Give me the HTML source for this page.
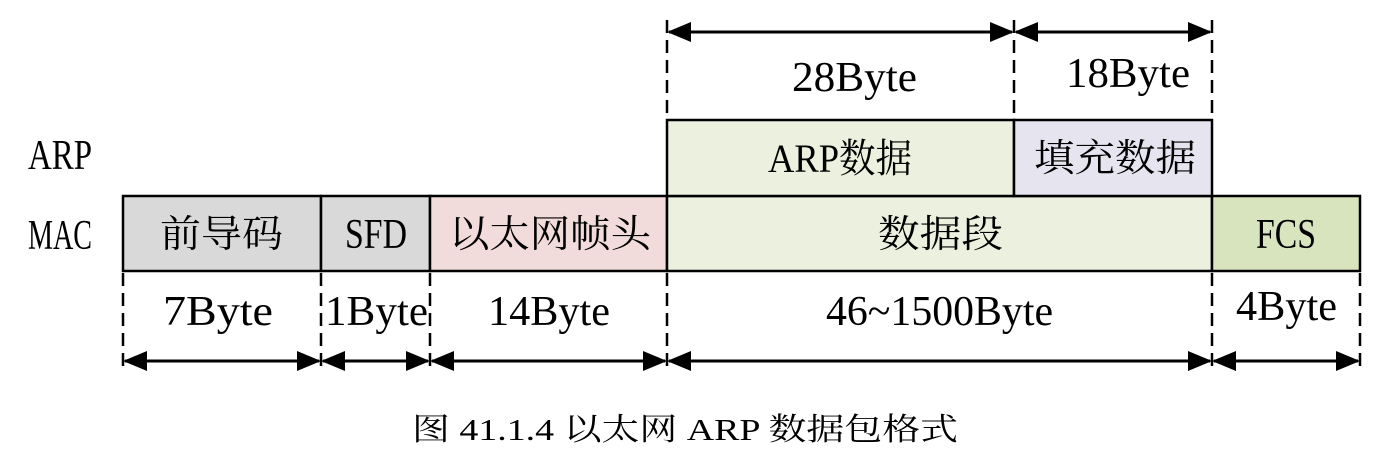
<!DOCTYPE html>
<html><head><meta charset="utf-8"><style>
html,body{margin:0;padding:0;background:#fff;}
svg{display:block}
text{font-family:"Liberation Serif","Noto Serif CJK SC",serif;fill:#000;}
</style></head><body>
<svg width="1397" height="453" viewBox="0 0 1397 453" xmlns="http://www.w3.org/2000/svg">
<g stroke="#000" stroke-width="2.5">
<rect x="123" y="196" width="198" height="75" fill="#d9d9d9"/>
<rect x="321" y="196" width="109" height="75" fill="#d9d9d9"/>
<rect x="430" y="196" width="237" height="75" fill="#f2dcdb"/>
<rect x="667" y="196" width="545" height="75" fill="#ebf1de"/>
<rect x="1212" y="196" width="148" height="75" fill="#d7e4bd"/>
<rect x="667" y="120" width="347" height="76" fill="#ebf1de"/>
<rect x="1014" y="120" width="198" height="76" fill="#e6e4ee"/>
</g>
<g stroke="#000" stroke-width="2.5" stroke-dasharray="13,7" fill="none">
<path d="M123 273V372M321 273V372M430 273V372M667 273V372M1212 273V372M1360 273V372"/>
<path d="M667 20V118M1014 20V118M1212 20V118"/>
</g>
<g stroke="#000" stroke-width="3" fill="none">
<path d="M125 361H319M323 361H428M432 361H665M669 361H1210M1214 361H1358"/>
<path d="M669 32H1012M1016 32H1210"/>
</g>
<g fill="#000">
<path d="M123 361l24-10v20zM321 361l-24-10v20zM321 361l24-10v20zM430 361l-24-10v20zM430 361l24-10v20zM667 361l-24-10v20zM667 361l24-10v20zM1212 361l-24-10v20zM1212 361l24-10v20zM1360 361l-24-10v20z"/>
<path d="M667 32l24-10v20zM1014 32l-24-10v20zM1014 32l24-10v20zM1212 32l-24-10v20z"/>
</g>
<g font-size="42">
<text x="28" y="169" textLength="64" lengthAdjust="spacingAndGlyphs">ARP</text>
<text x="28" y="249" textLength="64" lengthAdjust="spacingAndGlyphs">MAC</text>
<text x="160" y="247" textLength="123" lengthAdjust="spacingAndGlyphs" font-size="38">前导码</text>
<text x="345" y="248" textLength="62" lengthAdjust="spacingAndGlyphs">SFD</text>
<text x="449" y="247" textLength="202" lengthAdjust="spacingAndGlyphs" font-size="38">以太网帧头</text>
<text x="878" y="247" textLength="125" lengthAdjust="spacingAndGlyphs" font-size="38">数据段</text>
<text x="1256" y="248" textLength="60" lengthAdjust="spacingAndGlyphs">FCS</text>
<text x="768" y="172" textLength="144" lengthAdjust="spacingAndGlyphs" font-size="40">ARP数据</text>
<text x="1034" y="171" textLength="162" lengthAdjust="spacingAndGlyphs" font-size="38">填充数据</text>
<text x="792" y="91" textLength="125" lengthAdjust="spacingAndGlyphs">28Byte</text>
<text x="1066" y="87" textLength="124" lengthAdjust="spacingAndGlyphs">18Byte</text>
<text x="163" y="325" textLength="110" lengthAdjust="spacingAndGlyphs">7Byte</text>
<text x="325" y="325" textLength="103" lengthAdjust="spacingAndGlyphs">1Byte</text>
<text x="488" y="325" textLength="122" lengthAdjust="spacingAndGlyphs">14Byte</text>
<text x="826" y="325" textLength="227" lengthAdjust="spacingAndGlyphs">46~1500Byte</text>
<text x="1236" y="320" textLength="101" lengthAdjust="spacingAndGlyphs">4Byte</text>
</g>
<text x="412" y="440" font-size="31" textLength="546" lengthAdjust="spacingAndGlyphs">图 41.1.4 以太网 ARP 数据包格式</text>
</svg>
</body></html>
